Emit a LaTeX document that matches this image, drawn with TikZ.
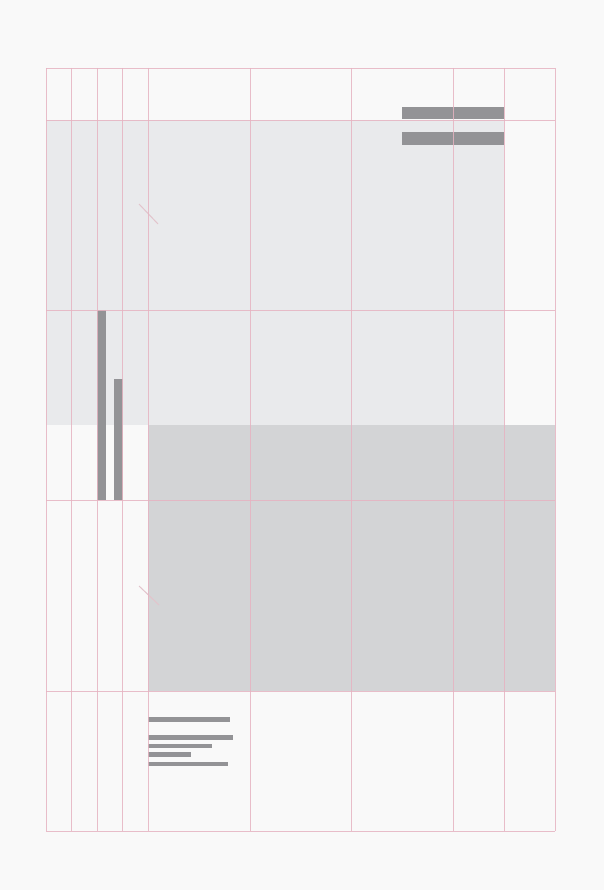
\documentclass[tikz,border=0pt]{standalone}
\definecolor{paper}{HTML}{F9F9F9}
\definecolor{lightband}{HTML}{E9EAEC}
\definecolor{darkband}{HTML}{D3D4D6}
\definecolor{barfill}{HTML}{939396}
\definecolor{guide}{HTML}{E6B3C1}
\definecolor{tick}{HTML}{E2C4CC}
\begin{document}
\begin{tikzpicture}[x=1pt,y=-1pt,line join=round,line cap=butt]
	% page and bands
	\fill[paper] (0,0) rectangle (604,890);
	\fill[lightband] (46,120) rectangle (504,425);
	\fill[darkband] (148,425) rectangle (555,691);
	% heading bars
	\fill[barfill] (402,107) rectangle (504,119);
	\fill[barfill] (402,132) rectangle (504,145);
	% vertical bars
	\fill[barfill] (97,310) rectangle (106,500);
	\fill[barfill] (114,379) rectangle (123,500);
	% text lines
	\fill[barfill] (148,717) rectangle (230,722);
	\fill[barfill] (148,735) rectangle (233,739.5);
	\fill[barfill] (148,743.5) rectangle (212,748);
	\fill[barfill] (148,752) rectangle (191,756.5);
	\fill[barfill] (148,761.5) rectangle (228,766);
	% small ticks
	\draw[tick,line width=1pt] (139,204) -- (158,224);
	\draw[tick,line width=1pt] (139,586) -- (159,605);
	% grid
	\foreach \x in {46,71,97,122,148,250,351,453,504,555}{
		\draw[guide,opacity=.85,line width=0.8pt] (\x,68) -- (\x,831);
	}
	\foreach \y in {68,120,310,500,691,831}{
		\draw[guide,opacity=.85,line width=0.8pt] (46,\y) -- (555,\y);
	}
\end{tikzpicture}
\end{document}
